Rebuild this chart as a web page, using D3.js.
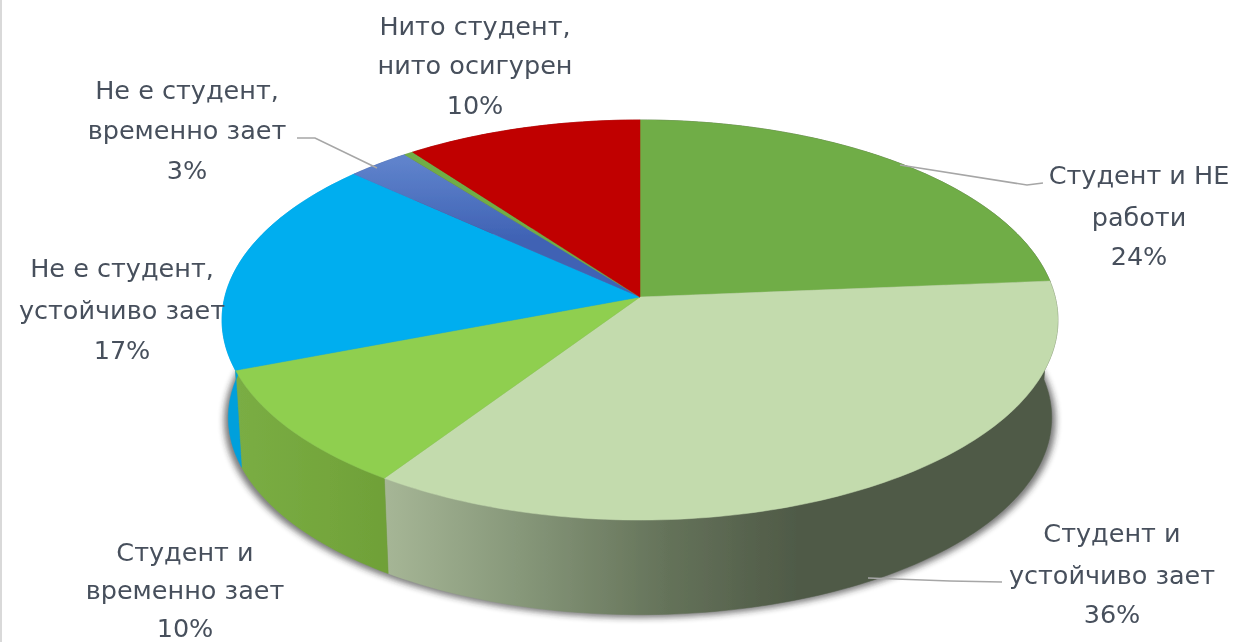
<!DOCTYPE html>
<html lang="bg">
<head>
    <meta charset="UTF-8">
    <script src="https://d3js.org/d3.v7.min.js"></script>
    <title>Pie</title>
    <style>
        body { margin: 0; background: #fff; }
        svg { display: block; }
        text { font-family: "DejaVu Sans", sans-serif; font-size: 25.5px; fill: #47505c; text-anchor: middle; }
    </style>
</head>
<body>
    <svg id="chart" width="1234" height="642"></svg>
    <script>
        // slice shares (the printed labels are rounded)
        const values = [23.7, 35.7, 9.8, 17.5, 2.7, 0.4, 10.2];
        const topColors = ["#70ad47", "#c3dbad", "#8fcf50", "#00aeef", "url(#blueTop)", "#70ad47", "#c00000"];
        const sideColors = ["#4f5a47", "url(#lightSide)", "url(#midSide)", "#00a0dc", "#3a5a9c", "#5f9338", "#900000"];
        const labelLines = [
            ["Студент и НЕ", "работи", "24%"],
            ["Студент и", "устойчиво зает", "36%"],
            ["Студент и", "временно зает", "10%"],
            ["Не е студент,", "устойчиво зает", "17%"],
            ["Не е студент,", "временно зает", "3%"],
            ["Нито студент,", "нито осигурен", "10%"]
        ];

        // layout
        const labelX = [1139, 1112, 185, 122, 187, 475];
        const labelY = [[175, 217, 256], [533, 575, 614], [552, 590, 628], [268, 310, 350], [90, 130, 170], [26, 65, 105]];
        const leaders = [
            [[1043, 183], [1027, 185], [900, 165]],
            [[1002, 582], [950, 581], [868, 578]],
            [[297, 138], [315, 138], [377, 168]]
        ];

        const apexX = 640, apexY = 297;
        const scaleX = 415.2, scaleY = 197.4, persp = -0.115; // tilted disc
        const depth = 98, bottomScale = 0.985;

        const svg = d3.select("#chart");
        const defs = svg.append("defs");

        function gradient(id, x1, x2, stops) {
            const g = defs.append("linearGradient").attr("id", id)
                .attr("gradientUnits", "userSpaceOnUse")
                .attr("x1", x1).attr("x2", x2).attr("y1", 0).attr("y2", 0);
            stops.forEach(s => g.append("stop").attr("offset", s[0]).attr("stop-color", s[1]));
        }
        gradient("lightSide", 385, 1050, [[0, "#a6b696"], [0.2, "#87987a"], [0.42, "#65735a"], [0.62, "#4f5a47"], [1, "#4f5a47"]]);
        gradient("midSide", 238, 388, [[0, "#7aad44"], [0.6, "#74a63c"], [1, "#6fa038"]]);
        defs.append("linearGradient").attr("id", "blueTop")
            .attr("gradientUnits", "userSpaceOnUse")
            .attr("x1", 0).attr("x2", 0).attr("y1", 160).attr("y2", 240)
            .call(g => {
                g.append("stop").attr("offset", 0).attr("stop-color", "#5f83cc");
                g.append("stop").attr("offset", 1).attr("stop-color", "#3f62b4");
            });
        defs.append("filter").attr("id", "soft").append("feGaussianBlur").attr("stdDeviation", 0.7);
        defs.append("filter").attr("id", "shadow").attr("x", "-5%").attr("y", "-5%").attr("width", "110%").attr("height", "110%")
            .append("feGaussianBlur").attr("stdDeviation", 3);

        // angle clockwise from the top of the disc -> screen point
        function rim(a, isBottom) {
            const u = Math.sin(a), v = -Math.cos(a);
            const w = 1 + persp * v;
            const s = isBottom ? bottomScale : 1;
            return [
                apexX + s * scaleX * u / w,
                apexY + s * scaleY * v / w + (isBottom ? depth : 0)
            ];
        }
        function arcPts(a0, a1, isBottom) {
            const n = Math.max(2, Math.ceil((a1 - a0) / 0.02));
            return d3.range(n + 1).map(i => rim(a0 + (a1 - a0) * i / n, isBottom));
        }

        const slices = d3.pie().sort(null).startAngle(0).endAngle(2 * Math.PI)(values);
        const line = d3.line();

        svg.append("rect").attr("x", 0).attr("y", 0).attr("width", 2).attr("height", 642).attr("fill", "#d9d9d9");

        // soft shadow under the wall
        svg.append("path")
            .attr("d", line(arcPts(0, 2 * Math.PI, true).map(p => [p[0] + (p[0] - apexX) * 0.01, p[1] + 3])) + "Z")
            .attr("fill", "#222")
            .attr("opacity", 0.6)
            .attr("filter", "url(#shadow)");

        const pie = svg.append("g").attr("filter", "url(#soft)");

        // walls first, the top surface covers what is behind it
        pie.selectAll("path.side").data(slices).join("path")
            .attr("class", "side")
            .attr("d", d => line(arcPts(d.startAngle, d.endAngle, false).concat(arcPts(d.startAngle, d.endAngle, true).reverse())) + "Z")
            .attr("fill", (d, i) => sideColors[i])
            .attr("stroke", (d, i) => sideColors[i])
            .attr("stroke-width", 0.5);

        pie.selectAll("path.top").data(slices).join("path")
            .attr("class", "top")
            .attr("d", d => line([[apexX, apexY]].concat(arcPts(d.startAngle, d.endAngle, false))) + "Z")
            .attr("fill", (d, i) => topColors[i])
            .attr("stroke", (d, i) => topColors[i])
            .attr("stroke-width", 0.5);

        svg.selectAll("path.leader").data(leaders).join("path")
            .attr("class", "leader")
            .attr("d", line)
            .attr("fill", "none")
            .attr("stroke", "#a6a6a6")
            .attr("stroke-width", 1.6);

        const labels = svg.append("g").attr("filter", "url(#soft)");
        labelLines.forEach((lines, i) => {
            lines.forEach((t, j) => {
                labels.append("text")
                    .attr("x", labelX[i])
                    .attr("y", labelY[i][j])
                    .attr("dy", "0.35em")
                    .text(t);
            });
        });
    </script>
</body>
</html>
